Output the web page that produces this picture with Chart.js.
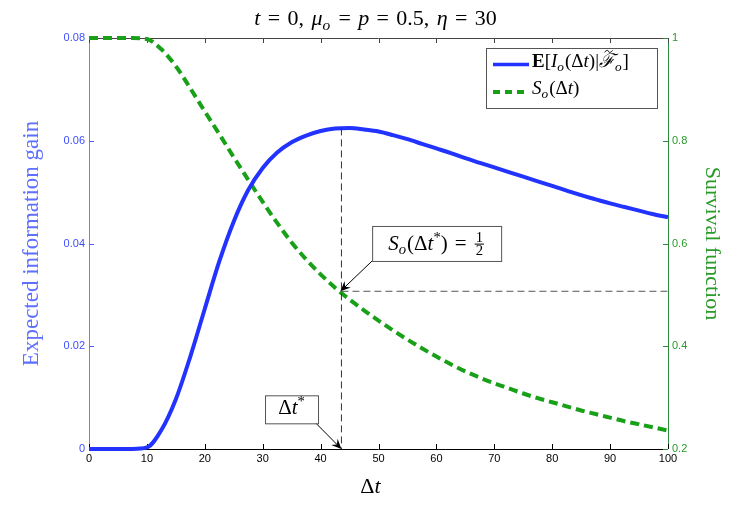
<!DOCTYPE html>
<html>
<head>
<meta charset="utf-8">
<script src="https://cdn.jsdelivr.net/npm/chart.js@4.4.0/dist/chart.umd.min.js"></script>
<style>
  html, body { margin: 0; padding: 0; background: #fff; }
  #wrap { width: 747px; height: 506px; }
</style>
</head>
<body>
<div id="wrap"><canvas id="chart"></canvas></div>
<script>
// Delta t values
const dt = [0, 2.5, 5, 7.5, 10, 12.5, 15, 17.5, 20, 22.5, 25, 27.5, 30, 32.5, 35, 37.5, 40, 42.5, 45, 47.5,
  50, 52.5, 55, 57.5, 60, 62.5, 65, 67.5, 70, 72.5, 75, 77.5, 80, 82.5, 85, 87.5, 90, 92.5, 95, 97.5, 100];

// expected information gain (left axis)
const gain = [0, 0, 0, 0, 0.0003, 0.0037, 0.0097, 0.0180, 0.0273, 0.0365, 0.0443, 0.0504, 0.0547, 0.0577,
  0.0597, 0.0610, 0.0619, 0.0624, 0.0625, 0.0622, 0.0618, 0.0611, 0.0603, 0.0594, 0.0585, 0.0576, 0.0566,
  0.0557, 0.0548, 0.0539, 0.0530, 0.0521, 0.0512, 0.0503, 0.0494, 0.0486, 0.0478, 0.0471, 0.0464, 0.0457, 0.0451];

// survival function (right axis)
const survival = [1, 1, 1, 1, 0.998, 0.978, 0.945, 0.902, 0.857, 0.813, 0.768, 0.724, 0.681, 0.640, 0.602,
  0.569, 0.540, 0.514, 0.491, 0.470, 0.450, 0.431, 0.413, 0.396, 0.380, 0.365, 0.351, 0.339, 0.328, 0.318,
  0.308, 0.299, 0.291, 0.283, 0.275, 0.268, 0.261, 0.254, 0.248, 0.242, 0.236];

const xTicks = [0, 10, 20, 30, 40, 50, 60, 70, 80, 90, 100];
const gainTicks = [0, 0.02, 0.04, 0.06, 0.08];
const survTicks = [0.2, 0.4, 0.6, 0.8, 1];

// annotation point
const dtStar = 43.6;
const dtStarGain = 0.0624;
const sHalf = 0.507;

const BLUE = '#2233ff';
const GREEN = '#19a019';
const SERIF = '"Liberation Serif", "DejaVu Serif", serif';
const SANS = '"Liberation Sans", Arial, sans-serif';
const SP = '\u2004'; // a bit wider than a normal space, for math spacing

// --- small rich-text helper for the math bits ---
function setFont(ctx, st, size) {
  const small = st.includes('_') || st.includes('^');
  const s = small ? size * 0.7 : size;
  ctx.font = (st.includes('i') ? 'italic ' : '') + (st.includes('b') ? 'bold ' : '') + s + 'px ' + SERIF;
  return s;
}
function partWidth(ctx, p, size) {
  const [t, st = ''] = p;
  if (st === 'frac') {
    const [a, b] = t.split('/');
    setFont(ctx, '_', size);
    return Math.max(ctx.measureText(a).width, ctx.measureText(b).width) + 4;
  }
  setFont(ctx, st, size);
  return ctx.measureText(t).width + (st.includes('_') ? 1 : 0);
}
function drawRich(ctx, parts, x, y, size, align) {
  let w = 0;
  parts.forEach(p => { w += partWidth(ctx, p, size); });
  let cx = align === 'center' ? x - w / 2 : x;
  ctx.textAlign = 'left';
  ctx.textBaseline = 'alphabetic';
  parts.forEach(p => {
    const [t, st = ''] = p;
    const pw = partWidth(ctx, p, size);
    if (st === 'frac') {
      const [a, b] = t.split('/');
      setFont(ctx, '_', size);
      const mid = y - size * 0.27;
      ctx.textAlign = 'center';
      ctx.fillText(a, cx + pw / 2, mid - 2);
      ctx.fillText(b, cx + pw / 2, mid + size * 0.52);
      ctx.fillRect(cx + 1, mid - 0.5, pw - 2, 1);
      ctx.textAlign = 'left';
    } else {
      setFont(ctx, st, size);
      const dy = st.includes('_') ? size * 0.22 : st.includes('^') ? -size * 0.38 : 0;
      ctx.fillText(t, cx, y + dy);
      if (st.includes('~')) {
        // small tilde above the letter
        const tx = cx + pw * 0.35, tw = pw * 0.5, ty = y - size * 0.82;
        ctx.save();
        ctx.strokeStyle = ctx.fillStyle;
        ctx.lineWidth = 1;
        ctx.beginPath();
        ctx.moveTo(tx, ty + 1);
        ctx.bezierCurveTo(tx + tw * 0.25, ty - 2, tx + tw * 0.5, ty - 1, tx + tw * 0.5, ty);
        ctx.bezierCurveTo(tx + tw * 0.5, ty + 1, tx + tw * 0.75, ty + 2, tx + tw, ty - 1);
        ctx.stroke();
        ctx.restore();
      }
    }
    cx += pw;
  });
  return w;
}

function arrow(ctx, x1, y1, x2, y2) {
  const ang = Math.atan2(y2 - y1, x2 - x1);
  const L = 10, W = 4.5;
  ctx.strokeStyle = '#000';
  ctx.lineWidth = 1;
  ctx.setLineDash([]);
  ctx.beginPath();
  ctx.moveTo(x1, y1);
  ctx.lineTo(x2 - Math.cos(ang) * L * 0.6, y2 - Math.sin(ang) * L * 0.6);
  ctx.stroke();
  ctx.save();
  ctx.translate(x2, y2);
  ctx.rotate(ang);
  ctx.fillStyle = '#000';
  ctx.beginPath();
  ctx.moveTo(0, 0);
  ctx.lineTo(-L, -W);
  ctx.lineTo(-L * 0.65, 0);
  ctx.lineTo(-L, W);
  ctx.closePath();
  ctx.fill();
  ctx.restore();
}

function textBox(ctx, x, y, w, h, parts, size) {
  ctx.fillStyle = '#fff';
  ctx.fillRect(x, y, w, h);
  ctx.strokeStyle = '#555';
  ctx.lineWidth = 1;
  ctx.setLineDash([]);
  ctx.strokeRect(x + 0.5, y + 0.5, w, h);
  ctx.fillStyle = '#000';
  drawRich(ctx, parts, x + w / 2, y + h * 0.68, size, 'center');
}

// frame and inward ticks, matlab style
const framePlugin = {
  id: 'frame',
  beforeDatasetsDraw(chart) {
    const { ctx, chartArea: a, scales } = chart;
    ctx.save();
    ctx.lineWidth = 1;
    ctx.setLineDash([]);
    const line = (c, x1, y1, x2, y2) => {
      ctx.strokeStyle = c;
      ctx.beginPath(); ctx.moveTo(x1, y1); ctx.lineTo(x2, y2); ctx.stroke();
    };
    line('#444', a.left, a.top + 0.5, a.right, a.top + 0.5);
    line('#000', a.left, a.bottom + 0.5, a.right, a.bottom + 0.5);
    line('#7080ff', a.left + 0.5, a.top, a.left + 0.5, a.bottom);
    line('#2e8b3e', a.right + 0.5, a.top, a.right + 0.5, a.bottom);
    scales.x.ticks.forEach(t => {
      const px = Math.round(scales.x.getPixelForValue(t.value)) + 0.5;
      line('#000', px, a.bottom, px, a.bottom - 5);
      line('#444', px, a.top, px, a.top + 5);
    });
    scales.y.ticks.forEach(t => {
      const py = Math.round(scales.y.getPixelForValue(t.value)) + 0.5;
      line('#5060ff', a.left, py, a.left + 5, py);
    });
    scales.y1.ticks.forEach(t => {
      const py = Math.round(scales.y1.getPixelForValue(t.value)) + 0.5;
      line('#2e8b3e', a.right, py, a.right - 5, py);
    });
    ctx.restore();
  },
  afterDatasetsDraw(chart) {
    const { ctx, chartArea: a, scales } = chart;
    const { x, y, y1 } = scales;
    ctx.save();

    // dashed guide lines
    const xs = x.getPixelForValue(dtStar);
    const ys = y1.getPixelForValue(sHalf);
    ctx.strokeStyle = '#333';
    ctx.lineWidth = 1;
    ctx.setLineDash([7, 4]);
    ctx.beginPath();
    ctx.moveTo(xs, y.getPixelForValue(dtStarGain));
    ctx.lineTo(xs, a.bottom);
    ctx.stroke();
    ctx.strokeStyle = '#555';
    ctx.beginPath();
    ctx.moveTo(xs, ys);
    ctx.lineTo(a.right, ys);
    ctx.stroke();
    ctx.setLineDash([]);

    // annotation boxes with arrows
    const b1x = x.getPixelForValue(48.9), b1y = y.getPixelForValue(0.0366);
    arrow(ctx, b1x, b1y, xs - 1, ys);
    textBox(ctx, b1x, b1y - 35, 129, 35,
      [['S', 'i'], ['o', 'i_'], ['(\u0394'], ['t', 'i'], ['*', '^'], [')' + SP + '=' + SP], ['1/2', 'frac']], 21);

    const b2x = x.getPixelForValue(30.4), b2y = y.getPixelForValue(0.005);
    arrow(ctx, b2x + 51, b2y, xs, a.bottom);
    textBox(ctx, b2x, b2y - 28, 53, 28, [['\u0394'], ['t', 'i'], ['*', '^']], 21);

    // legend
    const lx = a.right - 182, ly = a.top + 10;
    ctx.fillStyle = '#fff';
    ctx.fillRect(lx, ly, 171, 60);
    ctx.strokeStyle = '#555';
    ctx.strokeRect(lx + 0.5, ly + 0.5, 171, 60);
    ctx.lineWidth = 3.5;
    ctx.strokeStyle = BLUE;
    ctx.beginPath(); ctx.moveTo(lx + 7, ly + 16.5); ctx.lineTo(lx + 43, ly + 16.5); ctx.stroke();
    ctx.strokeStyle = GREEN;
    ctx.lineWidth = 4;
    ctx.setLineDash([7, 5]);
    ctx.beginPath(); ctx.moveTo(lx + 7, ly + 44); ctx.lineTo(lx + 43, ly + 44); ctx.stroke();
    ctx.setLineDash([]);
    ctx.fillStyle = '#000';
    drawRich(ctx, [['E', 'b'], ['['], ['I', 'i'], ['o', 'i_'], ['(\u0394'], ['t', 'i'], [')|'], ['\u2131', 'i~'], ['o', 'i_'], [']']],
      lx + 46, ly + 19, 19, 'left');
    drawRich(ctx, [['S', 'i'], ['o', 'i_'], ['(\u0394'], ['t', 'i'], [')']], lx + 46, ly + 46, 19, 'left');

    // title and x label
    const cx = (a.left + a.right) / 2;
    drawRich(ctx, [['t', 'i'], [SP + '=' + SP + '0,' + SP], ['\u03BC', 'i'], ['o', 'i_'], [SP + '=' + SP], ['p', 'i'],
      [SP + '=' + SP + '0.5,' + SP], ['\u03B7', 'i'], [SP + '=' + SP + '30']],
      cx - 3, 25, 22, 'center');
    drawRich(ctx, [['\u0394'], ['t', 'i']], cx - 8, 493, 22, 'center');
    ctx.restore();
  }
};

new Chart(document.getElementById('chart'), {
  type: 'line',
  data: {
    datasets: [
      {
        label: 'gain',
        data: dt.map((v, i) => ({ x: v, y: gain[i] })),
        borderColor: BLUE,
        borderWidth: 4,
        pointRadius: 0,
        cubicInterpolationMode: 'monotone',
        yAxisID: 'y',
        clip: 4,
        order: 1
      },
      {
        label: 'survival',
        data: dt.map((v, i) => ({ x: v, y: survival[i] })),
        borderColor: GREEN,
        borderWidth: 4,
        borderDash: [9, 5],
        pointRadius: 0,
        cubicInterpolationMode: 'monotone',
        yAxisID: 'y1',
        clip: 4,
        order: 2
      }
    ]
  },
  options: {
    responsive: true,
    maintainAspectRatio: false,
    animation: false,
    layout: { padding: { top: 38, left: 0, right: 0, bottom: 0 } },
    plugins: { legend: { display: false }, tooltip: { enabled: false } },
    scales: {
      x: {
        type: 'linear', min: 0, max: 100,
        afterBuildTicks: s => { s.ticks = xTicks.map(v => ({ value: v })); },
        afterFit: s => { s.height = 57; },
        grid: { display: false, drawTicks: false },
        border: { display: false },
        ticks: { color: '#000', padding: 3, font: { family: SANS, size: 11 }, callback: v => String(v) }
      },
      y: {
        position: 'left', min: 0, max: 0.08,
        afterBuildTicks: s => { s.ticks = gainTicks.map(v => ({ value: v })); },
        afterFit: s => { s.width = 89; },
        grid: { display: false, drawTicks: false },
        border: { display: false },
        ticks: { color: '#3d4dff', padding: 4, font: { family: SANS, size: 11 }, callback: v => String(v) },
        title: { display: true, text: 'Expected information gain', color: '#5f6fff',
          font: { family: SERIF, size: 23 }, padding: { top: 18, bottom: 0 } }
      },
      y1: {
        position: 'right', min: 0.2, max: 1,
        afterBuildTicks: s => { s.ticks = survTicks.map(v => ({ value: v })); },
        afterFit: s => { s.width = 79; },
        grid: { display: false, drawTicks: false },
        border: { display: false },
        ticks: { color: '#2a9a2a', padding: 4, font: { family: SANS, size: 11 }, callback: v => String(v) },
        title: { display: true, text: 'Survival function', color: '#2a9a2a',
          font: { family: SERIF, size: 22 }, padding: { top: 22, bottom: 0 } }
      }
    }
  },
  plugins: [framePlugin]
});
</script>
</body>
</html>
